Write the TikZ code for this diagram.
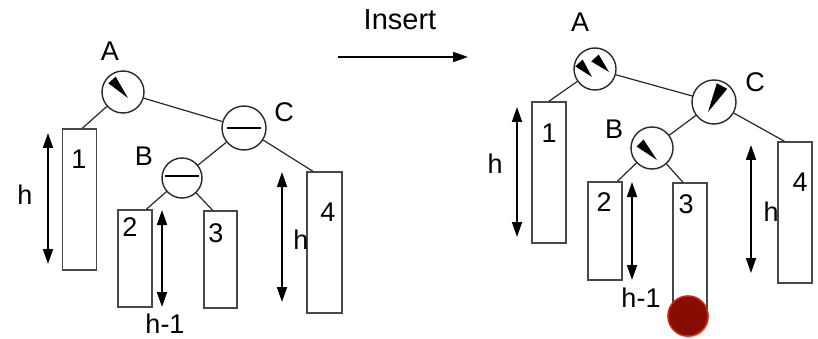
\documentclass[tikz,border=0pt]{standalone}
\usepackage{fontspec}
\setmainfont{Liberation Sans}
\usetikzlibrary{arrows.meta,calc,shadows}
\definecolor{ln}{RGB}{40,40,40}
\definecolor{dotfill}{RGB}{135,12,2}
\definecolor{dotedge}{RGB}{200,40,12}
\tikzset{
  bal/.style={circle, draw=ln, line width=1.4pt, fill=white, minimum size=42pt, inner sep=0pt},
  sub/.style={rectangle, draw=ln!85, line width=1.5pt, fill=white, inner sep=0pt},
  lbl/.style={inner sep=0pt, font=\fontsize{27}{27}\selectfont},
  edge/.style={draw=ln, line width=1.2pt},
  hgt/.style={draw=black, line width=1.8pt, {Triangle[length=15pt,width=10pt]}-{Triangle[length=15pt,width=10pt]}},
  wedge/.style={fill=black},
}
\begin{document}
\begin{tikzpicture}[x=1pt,y=-1pt]
\useasboundingbox (0,0) rectangle (818,339);

% ---------------- left tree ----------------
\node[sub, minimum width=34pt, minimum height=141pt] (L1) at (79.5,199.5) {};
\node[sub, minimum width=34pt, minimum height=97pt] (L2) at (135,258.5) {};
\node[sub, minimum width=33pt, minimum height=97pt] (L3) at (220.5,259.5) {};
\node[sub, minimum width=35pt, minimum height=141pt] (L4) at (324.5,242.5) {};
\node[bal] (LA) at (123,92) {};
\node[bal, minimum size=44pt] (LC) at (244,128) {};
\node[bal, minimum size=40pt] (LB) at (182,178) {};

\path[edge] (LA) -- ($(L1.north west)!0.58!(L1.north east)$);
\path[edge] (LA) -- (LC);
\path[edge] (LC) -- (LB);
\path[edge] (LC) -- ($(L4.north west)!0.18!(L4.north east)$);
\path[edge] (LB) -- ($(L2.north west)!0.82!(L2.north east)$);
\path[edge] (LB) -- ($(L3.north west)!0.27!(L3.north east)$);

% balance marks
\fill[wedge] (108.3,83.3) -- (115.7,76.7) -- (128,98) -- cycle;
\draw[line width=2.6pt] ($(LC.center)+(-17,0)$) -- ($(LC.center)+(17,0)$);
\draw[line width=2.6pt] ($(LB.center)+(-17,-2)$) -- ($(LB.center)+(17,-2)$);

\node[lbl] (tA) at (110,51) {A};
\node[lbl] (tC) at (284,112) {C};
\node[lbl] (tB) at (144,156) {B};
\node[lbl] (n1) at (79,159) {1};
\node[lbl] (n2) at (130,227) {2};
\node[lbl] (n3) at (216,233) {3};
\node[lbl] (n4) at (328,212) {4};

\coordinate (la1) at (48,133); \coordinate (la2) at (48,264);
\draw[hgt] (la1) -- (la2);
\node[lbl] (lh1) at (25,195) {h};
\coordinate (lb1) at (162,210); \coordinate (lb2) at (162,307);
\draw[hgt] (lb1) -- (lb2);
\node[lbl] (lh2) at (165,324) {h-1};
\coordinate (lc1) at (282,172); \coordinate (lc2) at (282,302);
\draw[hgt] (lc1) -- (lc2);
\node[lbl] (lh3) at (301,240) {h};

% ---------------- insert arrow ----------------
\coordinate (i1) at (338,57); \coordinate (i2) at (468,57);
\draw[line width=1.8pt, -{Triangle[length=15pt,width=10pt]}] (i1) -- (i2);
\node[inner sep=0pt, font=\fontsize{29}{29}\selectfont] (ins) at (400,20) {Insert};

% ---------------- right tree ----------------
\node[sub, minimum width=34pt, minimum height=141pt] (R1) at (549,172.5) {};
\node[sub, minimum width=34pt, minimum height=98pt] (R2) at (605,231) {};
\node[sub, minimum width=34pt, minimum height=133pt] (R3) at (690,249.5) {};
\node[sub, minimum width=34pt, minimum height=141pt] (R4) at (795,212.5) {};
\node[bal] (RA) at (595,69) {};
\node[bal, minimum size=44pt] (RC) at (714,102) {};
\node[bal] (RB) at (652,148) {};

\path[edge] (RA) -- ($(R1.north west)!0.5!(R1.north east)$);
\path[edge] (RA) -- (RC);
\path[edge] (RC) -- (RB);
\path[edge] (RC) -- ($(R4.north west)!0.2!(R4.north east)$);
\path[edge] (RB) -- ($(R2.north west)!0.85!(R2.north east)$);
\path[edge] (RB) -- ($(R3.north west)!0.3!(R3.north east)$);

% balance marks
\fill[wedge] (575.3,66.4) -- (582.7,59.6) -- (592,77) -- cycle;
\fill[wedge] (591.3,61.4) -- (598.7,54.6) -- (609,72) -- cycle;
\fill[wedge] (716.8,83.2) -- (727.2,88.8) -- (708,112) -- cycle;
\fill[wedge] (636.5,146.5) -- (643.5,139.5) -- (657,160) -- cycle;

\node[lbl] (uA) at (580,22) {A};
\node[lbl] (uC) at (755,82) {C};
\node[lbl] (uB) at (614,129) {B};
\node[lbl] (m1) at (549,133) {1};
\node[lbl] (m2) at (604,202) {2};
\node[lbl] (m3) at (686,204) {3};
\node[lbl] (m4) at (800,182) {4};

\coordinate (ra1) at (517,107); \coordinate (ra2) at (517,237);
\draw[hgt] (ra1) -- (ra2);
\node[lbl] (rh1) at (495,164) {h};
\coordinate (rb1) at (632,182); \coordinate (rb2) at (632,280);
\draw[hgt] (rb1) -- (rb2);
\node[lbl] (rh2) at (641,298) {h-1};
\coordinate (rc1) at (751,145); \coordinate (rc2) at (751,273);
\draw[hgt] (rc1) -- (rc2);
\node[lbl] (rh3) at (771,212) {h};

% inserted node
\node[circle, minimum size=40pt, inner sep=0pt, fill=dotfill, draw=dotedge, line width=1.6pt,
      drop shadow={opacity=0.35, shadow xshift=1pt, shadow yshift=-2pt}] (dot) at (688,316) {};
\end{tikzpicture}
\end{document}
